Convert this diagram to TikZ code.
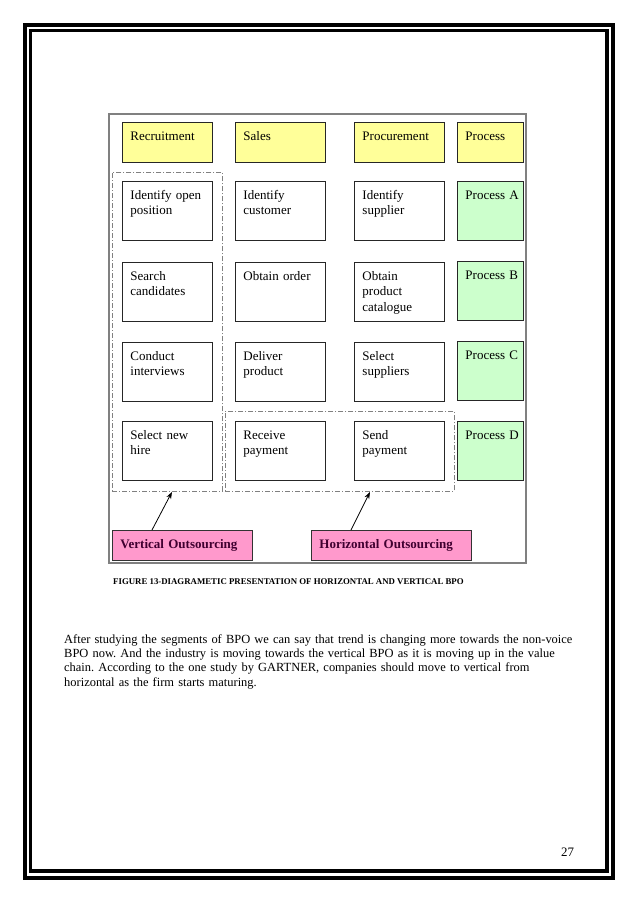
\documentclass[tikz,border=0pt]{standalone}
\usepackage{fontspec}
\setmainfont{Liberation Serif}
\usepackage{tikz}
\usepackage{xcolor}
\usetikzlibrary{arrows.meta}
\definecolor{cHead}{RGB}{255,255,153}
\definecolor{cProc}{RGB}{204,255,204}
\definecolor{cPink}{RGB}{255,153,204}
\definecolor{cPinkText}{RGB}{64,0,48}
\definecolor{cFrame}{RGB}{128,128,128}
\frenchspacing
\tikzset{
	cell/.style     ={rectangle, draw=black!85, line width=0.9pt, anchor=north west, align=left, text width=74pt, inner xsep=8pt, inner ysep=4pt, text height=13.6pt, text depth=37.4pt, font=\fontsize{13}{15.7}\selectfont},
	head/.style     ={cell, fill=cHead, text depth=18.4pt},
	proc/.style     ={cell, fill=cProc, text width=50pt},
	prochead/.style ={head, text width=50pt},
	% dash-dot groups around the outsourced steps
	group/.style    ={rectangle, draw=gray, line width=0.9pt, anchor=north west, dash pattern=on 5pt off 2pt on 1pt off 2pt, inner sep=0pt},
	outs/.style     ={rectangle, draw=black!80, line width=0.9pt, fill=cPink, anchor=north west, minimum height=30pt, inner xsep=8pt, align=left, text=cPinkText, font=\fontsize{13}{15}\selectfont\bfseries},
	ptr/.style      ={-{Stealth[length=7pt, width=5pt]}, line width=0.8pt, black},
}

\begin{document}
\begin{tikzpicture}[x=1pt, y=-1pt]
	\useasboundingbox (0,0) rectangle (638,903);
	\draw[line width=4pt] (24.7,24.7) rectangle (612.5,878);
	\draw[line width=3.5pt] (30.5,30.5) rectangle (607,871);
	\draw[cFrame, line width=1.5pt] (109,114) rectangle (526,563);

	\node[group, minimum width=110pt, minimum height=319pt] (vgroup) at (112,172) {};
	\node[group, minimum width=229pt, minimum height=80pt] (hgroup) at (225,411) {};

	\node[head] (hRec) at (122,122) {Recruitment};
	\node[head] (hSal) at (235,122) {Sales};
	\node[head] (hPrc) at (354,122) {Procurement};
	\node[prochead] (hPro) at (457,122) {Process};

	\node[cell] (rec1) at (122,181) {Identify open\\position};
	\node[cell] (rec2) at (122,262) {Search\\candidates};
	\node[cell] (rec3) at (122,342) {Conduct\\interviews};
	\node[cell] (rec4) at (122,421) {Select new\\hire};

	\node[cell] (sal1) at (235,181) {Identify\\customer};
	\node[cell] (sal2) at (235,262) {Obtain order};
	\node[cell] (sal3) at (235,342) {Deliver\\product};
	\node[cell] (sal4) at (235,421) {Receive\\payment};

	\node[cell] (prc1) at (354,181) {Identify\\supplier};
	\node[cell] (prc2) at (354,262) {Obtain\\product\\catalogue};
	\node[cell] (prc3) at (354,342) {Select\\suppliers};
	\node[cell] (prc4) at (354,421) {Send\\payment};

	\foreach \l [count=\i] in {A,B,C,D}
		\node[proc] (pro\l) at (457,{181+80*(\i-1)}) {Process~\l};

	\node[outs, text width=124pt] (vo) at (112,530) {Vertical Outsourcing};
	\node[outs, text width=144pt] (ho) at (311,530) {Horizontal Outsourcing};
	\draw[ptr] ([xshift=40pt]vo.north west) -- ([xshift=60pt]vgroup.south west);
	\draw[ptr] ([xshift=40pt]ho.north west) -- ([xshift=145pt]hgroup.south west);

	\node[anchor=base west, inner sep=0pt, font=\fontsize{8.8}{10}\selectfont\bfseries] (caption) at (113,584) {FIGURE 13-DIAGRAMETIC PRESENTATION OF HORIZONTAL AND VERTICAL BPO};

	\node[anchor=base west, inner sep=0pt, text width=540pt, align=left, font=\fontsize{12.45}{14.4}\selectfont] (para) at (64,643) {After studying the segments of BPO we can say that trend is changing more towards the non-voice\\BPO now. And the industry is moving towards the vertical BPO as it is moving up in the value\\chain. According to the one study by GARTNER, companies should move to vertical from\\horizontal as the firm starts maturing.};
	\node[anchor=base west, inner sep=0pt, font=\fontsize{12.9}{14.4}\selectfont] (pageno) at (561,856) {27};
\end{tikzpicture}
\end{document}
